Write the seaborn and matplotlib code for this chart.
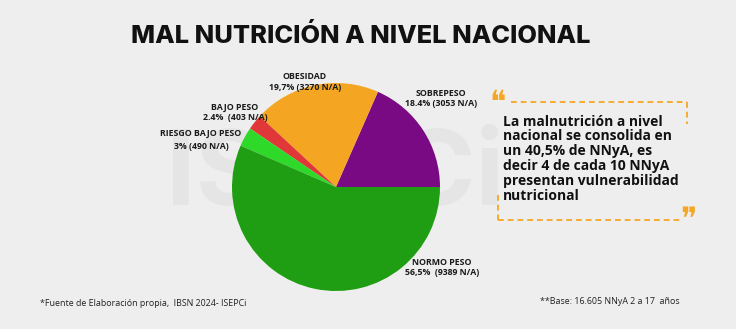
import matplotlib
matplotlib.use("Agg")
import matplotlib.pyplot as plt
import seaborn as sns

# Data
categories = ["SOBREPESO", "OBESIDAD", "BAJO PESO", "RIESGO BAJO PESO", "NORMO PESO"]
percentages = [18.4, 19.7, 2.4, 3.0, 56.5]
counts = [3053, 3270, 403, 490, 9389]
pct_labels = ["18.4%", "19,7%", "2.4% ", "3%", "56,5% "]
colors = ["#7a0a84", "#f4a623", "#e03838", "#2ed92a", "#1f9e14"]

title = "MAL NUTRICIÓN A NIVEL NACIONAL"
quote_lines = [
    "La malnutrición a nivel",
    "nacional se consolida en",
    "un 40,5% de NNyA, es",
    "decir 4 de cada 10 NNyA",
    "presentan vulnerabilidad",
    "nutricional",
]
source_note = "*Fuente de Elaboración propia,  IBSN 2024- ISEPCi"
base_note = "**Base: 16.605 NNyA 2 a 17  años"

sns.set_theme(style="white")
plt.rcParams["font.family"] = ["Open Sans", "DejaVu Sans"]

BG = "#efeeee"
W, H = 736, 329
fig = plt.figure(figsize=(W / 100, H / 100), dpi=100, facecolor=BG)
ax = fig.add_axes([0, 0, 1, 1])
ax.set_xlim(0, W)
ax.set_ylim(0, H)
ax.set_aspect("equal")
ax.axis("off")
ax.set_facecolor(BG)

# faint watermark
ax.text(335, 152, "ISEPCi", fontsize=76, fontweight="bold", color="#e6e5e5",
        ha="center", va="center", zorder=0, family=["Inter", "DejaVu Sans"])

# pie
cx, cy, r = 336, H - 187, 104
ax.pie(percentages, colors=colors, startangle=0, counterclock=True,
       center=(cx, cy), radius=r, wedgeprops=dict(linewidth=0),
       frame=True)
ax.set_xlim(0, W)
ax.set_ylim(0, H)
ax.axis("off")

# slice labels (name on the first line, share and count on the second)
label_pos = {
    "SOBREPESO": (441, 98.5),
    "OBESIDAD": (305, 82),
    "BAJO PESO": (235, 112.5),
    "RIESGO BAJO PESO": (201, 140),
    "NORMO PESO": (442, 267.5),
}
line_spacing = {"RIESGO BAJO PESO": 1.45}
for cat, p, n in zip(categories, pct_labels, counts):
    x, y = label_pos[cat]
    sep = "  " if p.endswith(" ") else " "
    ax.text(x, H - y, f"{cat}\n{p.strip()}{sep}({n} N/A)", fontsize=6.3,
            fontweight="bold", color="#1a1a1a", ha="center", va="center",
            linespacing=line_spacing.get(cat, 1.15), zorder=5)

# title
ax.text(361, H - 36, title, fontsize=18.3, fontweight="heavy", color="#111111",
        ha="center", va="center", family=["Inter", "DejaVu Sans"])

# quote box
orange = "#f5a623"
dash = dict(color=orange, lw=1.3, linestyle=(0, (3.2, 2.2)))
ax.plot([511, 687], [H - 102, H - 102], **dash)
ax.plot([687, 687], [H - 102, H - 124], **dash)
ax.plot([498, 680], [H - 220, H - 220], **dash)
ax.plot([498, 498], [H - 195, H - 220], **dash)
ax.text(498, H - 103, "\u275d", fontsize=22, color=orange,
        ha="center", va="center", family=["DejaVu Sans"])
ax.text(688, H - 221, "\u275e", fontsize=22, color=orange,
        ha="center", va="center", family=["DejaVu Sans"])

ax.text(503, H - 114.5, "\n".join(quote_lines), fontsize=10, fontweight="bold",
        color="#111111", ha="left", va="top", linespacing=1.08)

# footnotes
ax.text(40, H - 303, source_note, fontsize=6.4, color="#222222",
        ha="left", va="center")
ax.text(540, H - 302, base_note, fontsize=6.4, color="#222222",
        ha="left", va="center")

fig.savefig("out.png", dpi=100, facecolor=BG)
